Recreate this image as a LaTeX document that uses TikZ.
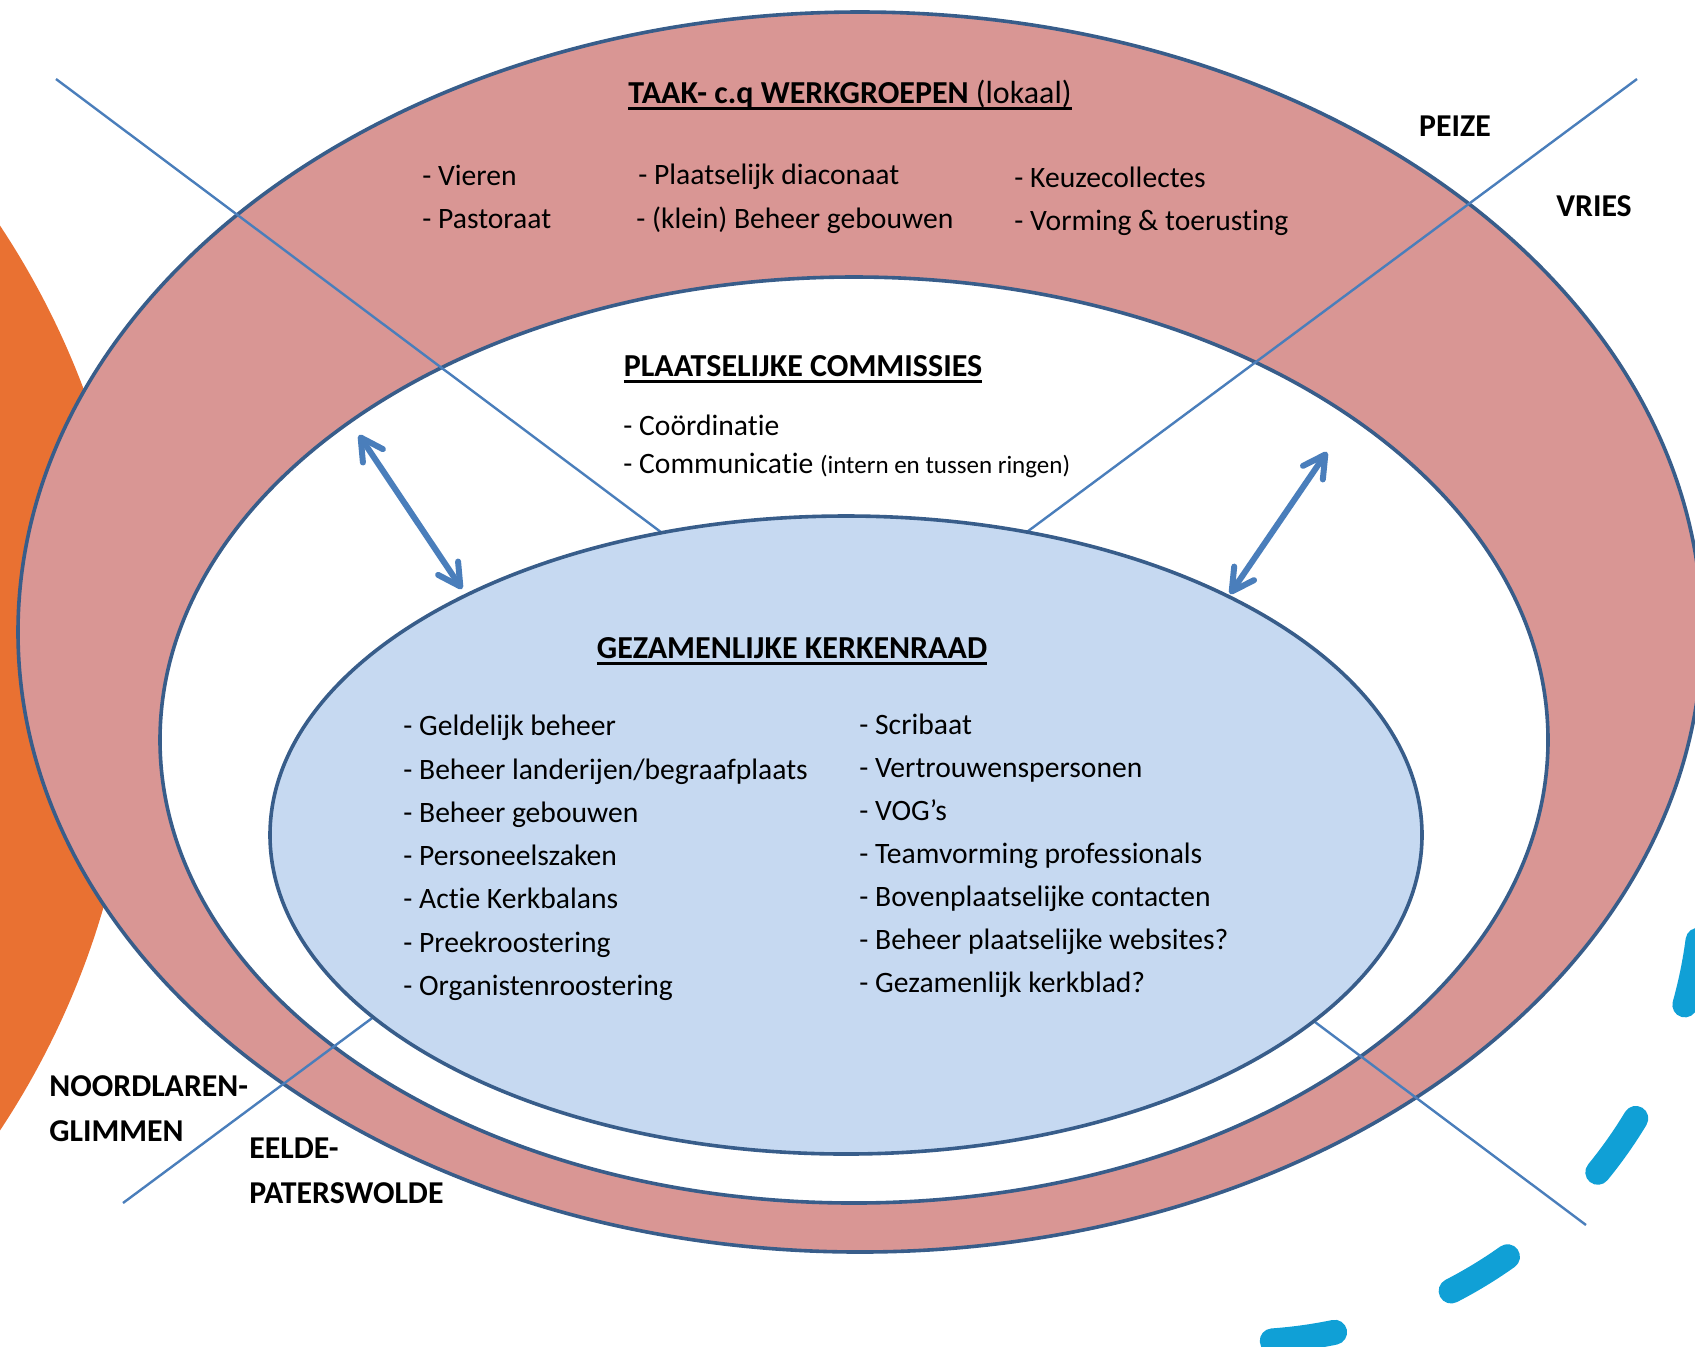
\documentclass[tikz,border=0pt]{standalone}
\usepackage{fontspec}
\setmainfont{Carlito}[Ligatures=CommonOff]
\usepackage{xcolor}
\usetikzlibrary{arrows.meta}
\definecolor{ringpink}{RGB}{217,150,148}
\definecolor{edgeblue}{RGB}{56,93,138}
\definecolor{coreblue}{RGB}{198,217,241}
\definecolor{lineblue}{RGB}{74,126,187}
\definecolor{sideorange}{RGB}{233,113,50}
\definecolor{dashcyan}{RGB}{16,160,214}
\newcommand{\bodyfont}{\fontsize{14.8}{17.8}\selectfont}
\newcommand{\headfont}{\fontsize{16}{19}\selectfont\bfseries}
\newcommand{\placefont}{\fontsize{15.9}{19}\selectfont\bfseries}
\newcommand{\smallnote}{\fontsize{12.5}{15}\selectfont}
\newcommand{\undl}[1]{\setbox0\hbox{#1}\rlap{\rule[-3.4pt]{\wd0}{1.2pt}}\box0}
\tikzstyle{ring} = [draw=edgeblue, line width=1.8pt]
\tikzstyle{divider} = [draw=lineblue, line width=1.2pt]
\tikzstyle{link} = [{Straight Barb[round,length=11pt,width=12pt]}-{Straight Barb[round,length=11pt,width=12pt]}, draw=lineblue, line width=3pt, line cap=round]
\tikzstyle{item} = [anchor=base west, inner sep=0pt, font=\bodyfont]
\tikzstyle{heading} = [anchor=base, inner sep=0pt, font=\headfont]
\tikzstyle{place} = [anchor=base west, inner sep=0pt, font=\placefont]

\begin{document}
\begin{tikzpicture}[x=0.5pt, y=-0.5pt]
    \useasboundingbox (0,0) rectangle (1695,1346);
    \clip (0,0) rectangle (1695,1346);

    % Orange side disc
    \fill[sideorange] (-684,678) circle [radius=820];

    % Rings
    \filldraw[ring, fill=ringpink] (860,632) ellipse [x radius=842, y radius=620];
    \filldraw[ring, fill=white] (854,740) ellipse [x radius=694, y radius=463];

    % Dividers
    \coordinate (nw) at (56,79);
    \coordinate (se) at (1586,1225);
    \coordinate (ne) at (1637,79);
    \coordinate (sw) at (123,1203);
    \draw[divider] (nw) -- (se);
    \draw[divider] (ne) -- (sw);

    % Core
    \filldraw[ring, fill=coreblue] (846,835) ellipse [x radius=576, y radius=319];

    % Dashed arc
    \draw[dashcyan, line width=12.5pt, line cap=round, dash pattern=on 33pt off 62pt]
        ([shift={(7.5:462)}]1240,880) arc [start angle=7.5, end angle=86, radius=462];

    % Arrows
    \coordinate (la1) at (359,435);
    \coordinate (la2) at (462,589);
    \coordinate (ra1) at (1327,452);
    \coordinate (ra2) at (1230,594);
    \draw[link] (la1) -- (la2);
    \draw[link] (ra1) -- (ra2);

    % Werkgroepen
    \node[heading] (werk) at (850,103) {\undl{TAAK- c.q WERKGROEPEN \mdseries(lokaal)}};
    \node[item] (vieren) at (422,185) {- Vieren};
    \node[item] (pastor) at (422,228) {- Pastoraat};
    \node[item] (diacon) at (638,184) {- Plaatselijk diaconaat};
    \node[item] (klein) at (636,228) {- (klein) Beheer gebouwen};
    \node[item] (keuze) at (1014,187) {- Keuzecollectes};
    \node[item] (vorming) at (1014,230) {- Vorming \& toerusting};

    % Places
    \node[place, anchor=base] (peize) at (1455,136) {PEIZE};
    \node[place, anchor=base] (vries) at (1594,216) {VRIES};
    \node[place] (noord) at (49,1096) {NOORDLAREN-};
    \node[place] (glim) at (49,1141) {GLIMMEN};
    \node[place] (eelde) at (249,1158) {EELDE-};
    \node[place] (pwolde) at (249,1203) {PATERSWOLDE};

    % Commissies
    \node[heading] (comm) at (803,376) {\undl{PLAATSELIJKE COMMISSIES}};
    \node[item] (coord) at (623,435) {- Coördinatie};
    \node[item] (commu) at (623,473) {- Communicatie {\smallnote(intern en tussen ringen)}};

    % Kerkenraad
    \node[heading] (kerk) at (792,658) {\undl{GEZAMENLIJKE KERKENRAAD}};
    \node[item] (l1) at (403,735) {- Geldelijk beheer};
    \node[item] (l2) at (403,779) {- Beheer landerijen/begraafplaats};
    \node[item] (l3) at (403,822) {- Beheer gebouwen};
    \node[item] (l4) at (403,865) {- Personeelszaken};
    \node[item] (l5) at (403,908) {- Actie Kerkbalans};
    \node[item] (l6) at (403,952) {- Preekroostering};
    \node[item] (l7) at (403,995) {- Organistenroostering};
    \node[item] (r1) at (859,734) {- Scribaat};
    \node[item] (r2) at (859,777) {- Vertrouwenspersonen};
    \node[item] (r3) at (859,820) {- VOG’s};
    \node[item] (r4) at (859,863) {- Teamvorming professionals};
    \node[item] (r5) at (859,906) {- Bovenplaatselijke contacten};
    \node[item] (r6) at (859,949) {- Beheer plaatselijke websites?};
    \node[item] (r7) at (859,992) {- Gezamenlijk kerkblad?};
\end{tikzpicture}
\end{document}
